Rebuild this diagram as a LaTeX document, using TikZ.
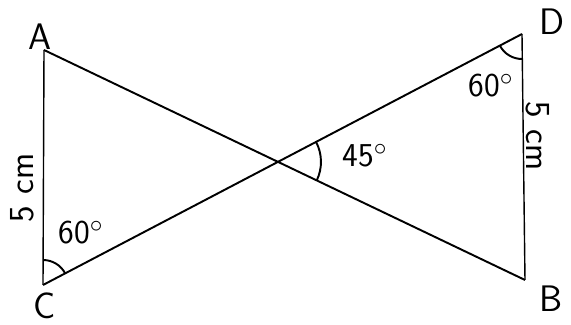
\documentclass[tikz,border=0pt]{standalone}
\usetikzlibrary{angles}
\begin{document}
\begin{tikzpicture}[line width=1.1pt,font=\sffamily,
  vlabel/.style={font=\sffamily\fontsize{21}{24}\selectfont,inner sep=0pt},
  alabel/.style={font=\sffamily\fontsize{19}{22}\selectfont,inner sep=0pt},
  slabel/.style={font=\sffamily\fontsize{20}{24}\selectfont,inner sep=0pt},
  angarc/.style={draw,line width=1.1pt}]
\useasboundingbox (0,0) rectangle (11.42,6.5);
\coordinate (A) at (0.88,5.5);
\coordinate (C) at (0.86,0.8);
\coordinate (D) at (10.44,5.82);
\coordinate (B) at (10.5,0.9);
\coordinate (X) at (intersection of A--B and C--D);
\draw (A)--(B);
\draw (C)--(D);
\draw[line width=0.8pt] (A)--(C);
\draw[line width=0.8pt] (D)--(B);
\pic[angarc,angle radius=0.5cm] {angle=D--C--A};
\pic[angarc,angle radius=0.5cm] {angle=C--D--B};
\pic[angarc,angle radius=0.86cm] {angle=B--X--D};
\node[vlabel] (lA) at (0.8,5.76) {A};
\node[vlabel] (lC) at (0.9,0.38) {C};
\node[vlabel] (lD) at (11.04,6.06) {D};
\node[vlabel] (lB) at (11.02,0.52) {B};
\node[alabel] (aC) at (1.62,1.84) {60$^\circ$};
\node[alabel] (aD) at (9.82,4.78) {60$^\circ$};
\node[alabel] (aX) at (7.3,3.38) {45$^\circ$};
\node[slabel,rotate=90] (sAC) at (0.45,2.74) {5\,\,cm};
\node[slabel,rotate=-90] (sDB) at (10.75,3.78) {5\,\,cm};
\end{tikzpicture}
\end{document}
